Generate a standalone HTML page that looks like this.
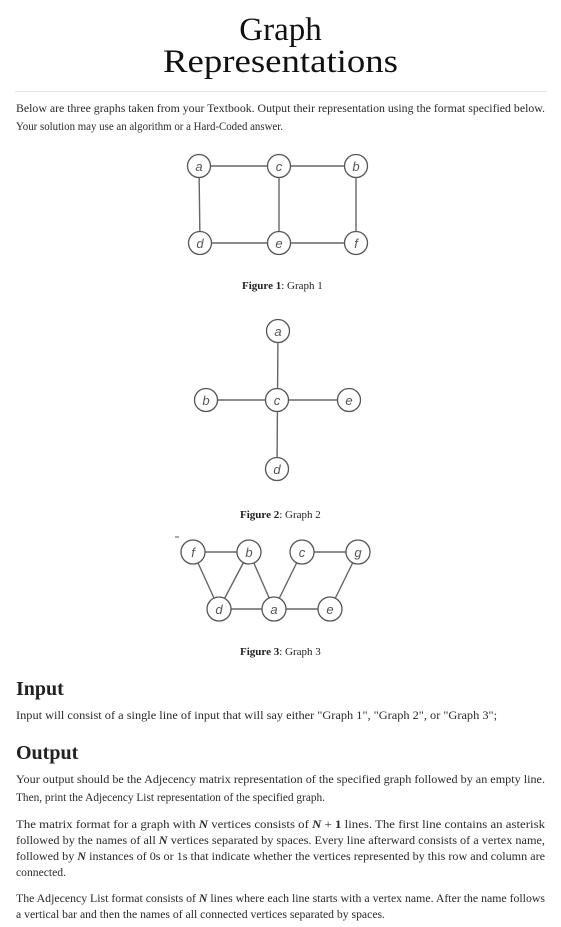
<!DOCTYPE html>
<html><head><meta charset="utf-8"><style>
html,body{margin:0;padding:0;background:#fff;}
svg{display:block;}
.t{font-family:"Liberation Serif",serif;font-size:11.5px;fill:#2a2a2a;}
.h{font-family:"Liberation Serif",serif;font-size:20px;font-weight:bold;fill:#222;}
.cap{font-family:"Liberation Serif",serif;font-size:11px;fill:#222;}
.n circle{fill:#fff;stroke:#555;stroke-width:1.3;}
.n text{font-family:"Liberation Sans",sans-serif;font-style:italic;font-size:13px;fill:#555;text-anchor:middle;}
.e line{stroke:#666;stroke-width:1.4;}
</style></head><body>
<svg width="561" height="927" viewBox="0 0 561 927" xmlns="http://www.w3.org/2000/svg">
<text x="280.5" y="40" text-anchor="middle" font-family="Liberation Serif,serif" font-size="33" fill="#111">Graph</text>
<text x="280.5" y="72" text-anchor="middle" font-family="Liberation Serif,serif" font-size="33" fill="#111" textLength="235" lengthAdjust="spacingAndGlyphs">Representations</text>
<line x1="15" y1="91.5" x2="546" y2="91.5" stroke="#e3e3e3" stroke-width="1"/>
<text class="t" x="16" y="112" textLength="529" lengthAdjust="spacingAndGlyphs">Below are three graphs taken from your Textbook. Output their representation using the format specified below.</text>
<text class="t" x="16" y="130" textLength="267" lengthAdjust="spacingAndGlyphs">Your solution may use an algorithm or a Hard-Coded answer.</text>

<!-- Graph 1 -->
<g class="e"><line x1="199" y1="166" x2="356" y2="166"/><line x1="200" y1="243" x2="356" y2="243"/><line x1="199" y1="166" x2="200" y2="243"/><line x1="279" y1="166" x2="279" y2="243"/><line x1="356" y1="166" x2="356" y2="243"/></g>
<g class="n">
<circle cx="199" cy="166" r="11.5"/><text x="199" y="171">a</text>
<circle cx="279" cy="166" r="11.5"/><text x="279" y="171">c</text>
<circle cx="356" cy="166" r="11.5"/><text x="356" y="171">b</text>
<circle cx="200" cy="243" r="11.5"/><text x="200" y="248">d</text>
<circle cx="279" cy="243" r="11.5"/><text x="279" y="248">e</text>
<circle cx="356" cy="243" r="11.5"/><text x="356" y="248">f</text>
</g>
<text class="cap" x="242" y="289"><tspan font-weight="bold">Figure 1</tspan>: Graph 1</text>

<!-- Graph 2 -->
<g class="e"><line x1="278" y1="331" x2="277" y2="469"/><line x1="206" y1="400" x2="349" y2="400"/></g>
<g class="n">
<circle cx="278" cy="331" r="11.5"/><text x="278" y="336">a</text>
<circle cx="206" cy="400" r="11.5"/><text x="206" y="405">b</text>
<circle cx="277" cy="400" r="11.5"/><text x="277" y="405">c</text>
<circle cx="349" cy="400" r="11.5"/><text x="349" y="405">e</text>
<circle cx="277" cy="469" r="11.5"/><text x="277" y="474">d</text>
</g>
<text class="cap" x="240" y="518"><tspan font-weight="bold">Figure 2</tspan>: Graph 2</text>

<!-- Graph 3 -->
<line x1="175" y1="537" x2="179" y2="537" stroke="#555" stroke-width="1"/>
<g class="e">
<line x1="193" y1="552" x2="249" y2="552"/><line x1="302" y1="552" x2="358" y2="552"/>
<line x1="219" y1="609" x2="330" y2="609"/>
<line x1="193" y1="552" x2="219" y2="609"/><line x1="249" y1="552" x2="219" y2="609"/>
<line x1="249" y1="552" x2="274" y2="609"/><line x1="302" y1="552" x2="274" y2="609"/>
<line x1="358" y1="552" x2="330" y2="609"/>
</g>
<g class="n">
<circle cx="193" cy="552" r="12"/><text x="193" y="557">f</text>
<circle cx="249" cy="552" r="12"/><text x="249" y="557">b</text>
<circle cx="302" cy="552" r="12"/><text x="302" y="557">c</text>
<circle cx="358" cy="552" r="12"/><text x="358" y="557">g</text>
<circle cx="219" cy="609" r="12"/><text x="219" y="614">d</text>
<circle cx="274" cy="609" r="12"/><text x="274" y="614">a</text>
<circle cx="330" cy="609" r="12"/><text x="330" y="614">e</text>
</g>
<text class="cap" x="240" y="655"><tspan font-weight="bold">Figure 3</tspan>: Graph 3</text>

<text class="h" x="16" y="695">Input</text>
<text class="t" x="16" y="719" textLength="481" lengthAdjust="spacingAndGlyphs">Input will consist of a single line of input that will say either "Graph 1", "Graph 2", or "Graph 3";</text>
<text class="h" x="16" y="759">Output</text>
<text class="t" x="16" y="783" textLength="529" lengthAdjust="spacingAndGlyphs">Your output should be the Adjecency matrix representation of the specified graph followed by an empty line.</text>
<text class="t" x="16" y="801" textLength="309" lengthAdjust="spacingAndGlyphs">Then, print the Adjecency List representation of the specified graph.</text>

<text class="t" x="16" y="828" textLength="529" lengthAdjust="spacingAndGlyphs">The matrix format for a graph with <tspan font-weight="bold" font-style="italic">N</tspan> vertices consists of <tspan font-weight="bold" font-style="italic">N</tspan> + <tspan font-weight="bold">1</tspan> lines. The first line contains an asterisk</text>
<text class="t" x="16" y="844" textLength="529" lengthAdjust="spacingAndGlyphs">followed by the names of all <tspan font-weight="bold" font-style="italic">N</tspan> vertices separated by spaces. Every line afterward consists of a vertex name,</text>
<text class="t" x="16" y="860" textLength="529" lengthAdjust="spacingAndGlyphs">followed by <tspan font-weight="bold" font-style="italic">N</tspan> instances of 0s or 1s that indicate whether the vertices represented by this row and column are</text>
<text class="t" x="16" y="876" textLength="50" lengthAdjust="spacingAndGlyphs">connected.</text>

<text class="t" x="16" y="902" textLength="529" lengthAdjust="spacingAndGlyphs">The Adjecency List format consists of <tspan font-weight="bold" font-style="italic">N</tspan> lines where each line starts with a vertex name. After the name follows</text>
<text class="t" x="16" y="918" textLength="369" lengthAdjust="spacingAndGlyphs">a vertical bar and then the names of all connected vertices separated by spaces.</text>
</svg>
</body></html>
